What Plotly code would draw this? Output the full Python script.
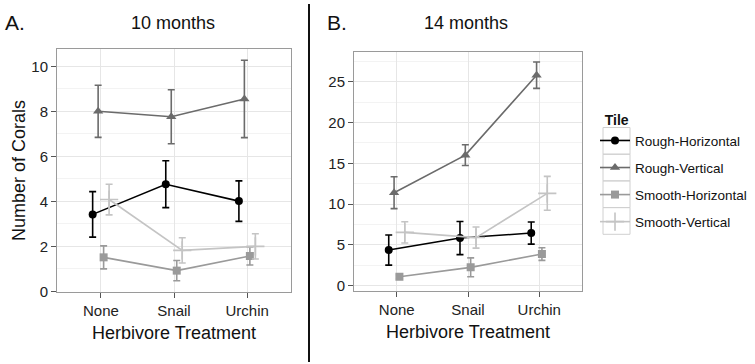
import plotly.graph_objects as go

treatments = ["None", "Snail", "Urchin"]
series = ["Rough-Horizontal", "Rough-Vertical", "Smooth-Horizontal", "Smooth-Vertical"]

# 10 months (panel A): means and standard errors
a_rough_h = [3.42, 4.76, 4.01]
a_rough_h_se = [1.01, 1.04, 0.90]
a_rough_v = [8.00, 7.76, 8.55]
a_rough_v_se = [1.16, 1.20, 1.72]
a_smooth_h = [1.51, 0.92, 1.57]
a_smooth_h_se = [0.51, 0.45, 0.40]
a_smooth_v = [4.08, 1.82, 2.00]
a_smooth_v_se = [0.68, 0.56, 0.56]

# 14 months (panel B)
b_rough_h = [4.37, 5.84, 6.45]
b_rough_h_se = [1.85, 2.03, 1.36]
b_rough_v = [11.40, 16.00, 25.80]
b_rough_v_se = [1.95, 1.27, 1.62]
b_smooth_h = [1.10, 2.25, 3.88]
b_smooth_h_se = [0.25, 1.16, 0.78]
b_smooth_v = [6.54, 5.90, 11.32]
b_smooth_v_se = [1.30, 1.30, 2.08]

panel_a = [(a_rough_h, a_rough_h_se), (a_rough_v, a_rough_v_se),
           (a_smooth_h, a_smooth_h_se), (a_smooth_v, a_smooth_v_se)]
panel_b = [(b_rough_h, b_rough_h_se), (b_rough_v, b_rough_v_se),
           (b_smooth_h, b_smooth_h_se), (b_smooth_v, b_smooth_v_se)]

colors = ["#000000", "#6b6b6b", "#9a9a9a", "#c4c4c4"]
symbols = ["circle", "triangle-up", "square", "cross-thin"]
msizes = [8, 9, 8, 13]
dodge = [-0.1125, -0.0375, 0.0375, 0.1125]

FONT = "Liberation Sans, Arial, Helvetica, sans-serif"
W, H = 755, 364

fig = go.Figure()

for panel, (xa, ya, show) in zip([panel_a, panel_b], [("x", "y", True), ("x2", "y2", False)]):
    for i, (vals, se) in enumerate(panel):
        xs = [j + 1 + dodge[i] for j in range(len(treatments))]
        fig.add_trace(go.Scatter(
            x=xs, y=vals, mode="lines+markers", name=series[i],
            legendgroup=series[i], showlegend=show, xaxis=xa, yaxis=ya,
            line=dict(color=colors[i], width=1.6),
            marker=dict(color=colors[i], symbol=symbols[i], size=msizes[i],
                        line=dict(color=colors[i], width=1.6 if symbols[i] == "cross-thin" else 0)),
            error_y=dict(type="data", array=se, visible=True, color=colors[i],
                         thickness=1.6, width=3.5),
        ))

def px_x(p):
    return p / W

def px_y(p):
    return 1 - p / H

tickfont = dict(family=FONT, size=15, color="#222")
titlefont = dict(family=FONT, size=18, color="#111")

axis_common = dict(
    range=[0.4, 3.6], tickvals=[1, 2, 3], ticktext=treatments,
    showline=True, mirror=True, linecolor="#9a9a9a", linewidth=1,
    showgrid=True, gridcolor="#e6e6e6", gridwidth=1,
    ticks="outside", ticklen=5, tickcolor="#555", tickwidth=1,
    tickfont=tickfont, zeroline=False, automargin=False,
    title=dict(text="Herbivore Treatment", font=titlefont, standoff=8),
)

yaxis_common = dict(
    showline=True, mirror=True, linecolor="#9a9a9a", linewidth=1,
    showgrid=True, gridcolor="#e6e6e6",
    ticks="outside", ticklen=5, tickcolor="#555", tickwidth=1,
    tickfont=tickfont, zeroline=False, automargin=False,
)

fig.update_layout(
    width=W, height=H, margin=dict(l=0, r=0, t=0, b=0),
    paper_bgcolor="white", plot_bgcolor="white",
    font=dict(family=FONT, color="#111"),
    xaxis=dict(domain=[px_x(57), px_x(291)], anchor="y", **axis_common),
    xaxis2=dict(domain=[px_x(354), px_x(582)], anchor="y2", **axis_common),
    yaxis=dict(domain=[px_y(292), px_y(49)], anchor="x", range=[-0.03, 10.77],
               tickvals=[0, 2, 4, 6, 8, 10],
               minor=dict(dtick=1, tick0=0, showgrid=True, gridcolor="#f3f3f3"),
               title=dict(text="Number of Corals", font=titlefont, standoff=1),
               **yaxis_common),
    yaxis2=dict(domain=[px_y(290.6), px_y(51.5)], anchor="x2", range=[-0.6, 28.7],
                tickvals=[0, 5, 10, 15, 20, 25],
                minor=dict(dtick=2.5, tick0=0, showgrid=True, gridcolor="#f3f3f3"),
                **yaxis_common),
    legend=dict(
        title=dict(text="&nbsp;&nbsp;<b>Tile</b>", font=dict(family=FONT, size=14, color="#111")),
        x=px_x(595), y=px_y(107), xanchor="left", yanchor="top",
        font=dict(family=FONT, size=13.5, color="#111"),
        bgcolor="rgba(0,0,0,0)", tracegroupgap=6.5, itemwidth=30,
    ),
    showlegend=True,
)

# legend key boxes (ggplot style)
key_top = 127.5
key_size = 26.7
for i in range(len(series)):
    fig.add_shape(type="rect", xref="paper", yref="paper",
                  x0=px_x(603), x1=px_x(630),
                  y0=px_y(key_top + key_size * i), y1=px_y(key_top + key_size * (i + 1)),
                  line=dict(color="#d0d0d0", width=1), fillcolor="rgba(0,0,0,0)", layer="below")

# panel labels and titles
fig.add_annotation(text="A.", x=px_x(3), y=px_y(22), xref="paper", yref="paper",
                   xanchor="left", yanchor="middle", showarrow=False,
                   font=dict(family=FONT, size=21, color="#111"))
fig.add_annotation(text="10 months", x=px_x(173), y=px_y(23), xref="paper", yref="paper",
                   xanchor="center", yanchor="middle", showarrow=False,
                   font=dict(family=FONT, size=18, color="#111"))
fig.add_annotation(text="B.", x=px_x(325), y=px_y(22), xref="paper", yref="paper",
                   xanchor="left", yanchor="middle", showarrow=False,
                   font=dict(family=FONT, size=21, color="#111"))
fig.add_annotation(text="14 months", x=px_x(466), y=px_y(23), xref="paper", yref="paper",
                   xanchor="center", yanchor="middle", showarrow=False,
                   font=dict(family=FONT, size=18, color="#111"))

# divider line between panels
fig.add_shape(type="line", xref="paper", yref="paper",
              x0=px_x(309), x1=px_x(309), y0=px_y(4), y1=px_y(362),
              line=dict(color="#111", width=2))

fig.write_html("out.html", config={"displayModeBar": False},
               post_script="document.body.style.margin='0px';document.body.style.padding='0px';")
